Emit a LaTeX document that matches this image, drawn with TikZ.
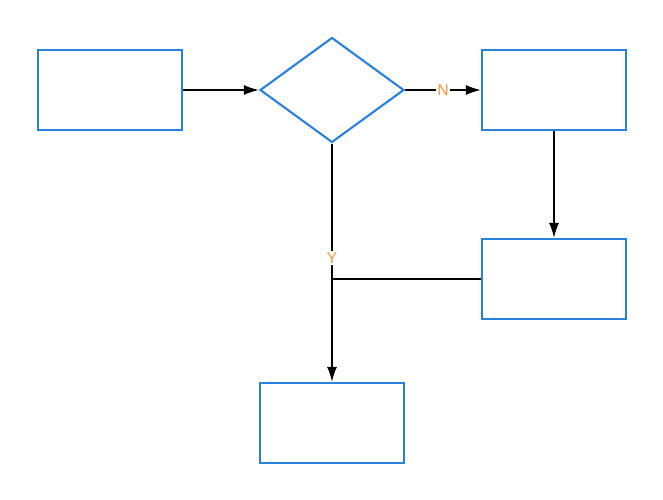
\documentclass[tikz,border=0pt]{standalone}
\usepackage{fontspec}
\setmainfont{Liberation Sans}
\usetikzlibrary{shapes.geometric,arrows.meta,positioning}
\definecolor{boxblue}{HTML}{2B80D8}
\definecolor{labelorange}{HTML}{F39A45}

\tikzset{
  basic/.style  = {draw=boxblue, line width=1.2pt, inner sep=0pt},
  process/.style = {basic, rectangle, minimum width=2.88cm, minimum height=1.6cm},
  decide/.style = {basic, diamond, minimum width=2.88cm, minimum height=2.1cm},
  yesno/.style  = {fill=white, text=labelorange, font=\small, inner sep=1pt}
}

\begin{document}
\begin{tikzpicture}[x=0.02cm, y=-0.02cm,
  >={Latex[length=3mm,width=2mm]}, line width=1pt]
\useasboundingbox (0,0) rectangle (663,500);

% the steps
\node[process] (s1) at (110,90) {};
\node[decide] (d1) at (332,90) {};
\node[process] (s2) at (554,90) {};
\node[process] (s3) at (554,279) {};
\node[process] (s4) at (332,423) {};
\coordinate (join) at (332,279);

\draw[->] (s1) -- (d1);
\draw[->] (d1) -- node[yesno] {N} (s2);
\draw[->] (s2) -- (s3);
\draw (s3.west) -- (join);
\draw[->] (d1.south) -- node[yesno, pos=0.48] {Y} (s4.north);

\end{tikzpicture}
\end{document}
